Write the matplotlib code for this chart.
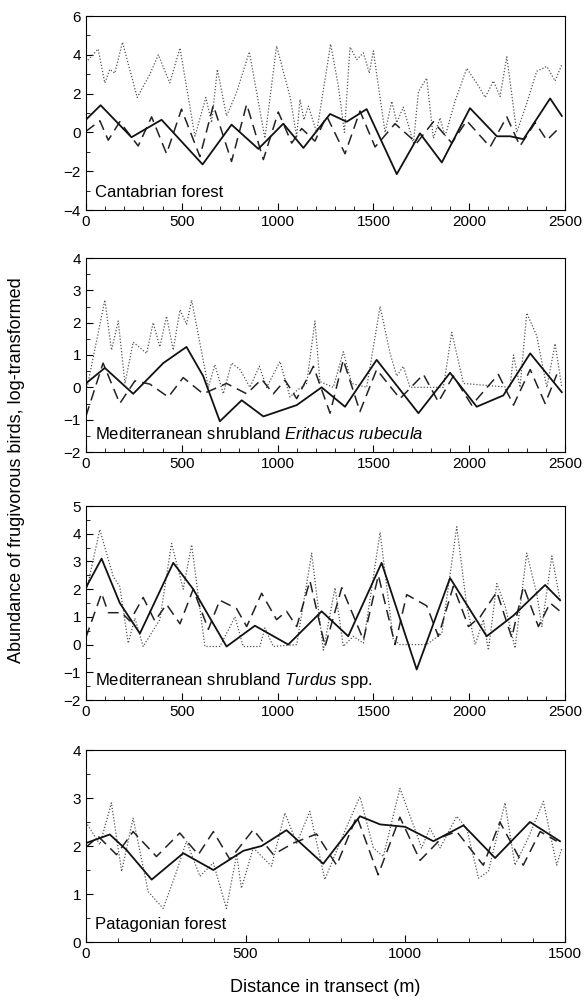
import matplotlib
matplotlib.use('Agg')
import matplotlib.pyplot as plt
from matplotlib.ticker import MultipleLocator

# --- Cantabrian forest
cf_solid_x = [0,77,238,395,609,760,900,1030,1135,1274,1361,1465,1622,1743,1857,2004,2144,2213,2283,2422,2483]
cf_solid_y = [0.65,1.4,-0.25,0.65,-1.65,0.4,-0.85,0.45,-0.8,0.95,0.55,1.2,-2.15,-0.05,-1.55,1.25,-0.2,-0.2,-0.35,1.75,0.85]
cf_dash_x = [0,73,117,177,273,343,421,499,595,665,760,839,926,1004,1074,1126,1195,1256,1352,1430,1509,1613,1726,1813,1909,1987,2109,2196,2265,2344,2405,2466]
cf_dash_y = [0.05,0.6,-0.4,0.55,-0.7,0.8,-1.1,1.2,-1.25,1.4,-1.5,1.45,-1.4,1.05,-0.55,0.2,-0.45,0.85,-1.1,1.1,-0.75,0.45,-0.55,0.55,-0.55,0.6,-0.75,0.8,-0.7,0.5,-0.4,0.2]
cf_dot_x = [0,64,99,125,151,191,268,334,378,438,491,569,626,656,686,734,786,853,934,995,1065,1100,1117,1138,1161,1204,1277,1317,1349,1378,1413,1448,1479,1500,1561,1596,1622,1656,1709,1735,1778,1813,1848,1874,1926,1987,2048,2083,2126,2161,2196,2248,2300,2352,2405,2448,2483]
cf_dot_y = [3.6,4.3,2.55,3.25,3.05,4.65,1.8,3.0,4.0,2.55,4.35,-0.2,1.8,0.5,3.25,0.85,2.05,4.15,-0.3,4.45,1.85,-0.2,1.7,0.65,1.35,0.0,4.55,2.4,0.0,4.4,3.75,4.1,3.05,4.2,0.0,1.6,0.5,1.3,-0.55,2.1,2.8,-0.3,0.75,-0.2,1.6,3.3,2.4,1.8,2.65,1.85,3.9,0.0,1.5,3.15,3.4,2.65,3.5]

# --- Mediterranean shrubland, Erithacus rubecula
er_solid_x = [0,99,247,404,525,612,699,813,926,1100,1230,1352,1517,1735,1900,2039,2178,2318,2483]
er_solid_y = [0.12,0.6,-0.2,0.75,1.25,0.35,-1.05,-0.4,-0.9,-0.55,0.0,-0.6,0.85,-0.8,0.45,-0.6,-0.25,1.05,-0.15]
er_dash_x = [0,90,177,256,334,430,508,612,734,839,917,978,1039,1100,1187,1274,1343,1430,1517,1639,1761,1839,1917,2013,2152,2231,2318,2396,2457]
er_dash_y = [-0.9,0.75,-0.5,0.2,0.1,-0.3,0.3,-0.2,0.12,-0.2,0.25,-0.2,0.22,-0.35,0.65,-0.8,0.85,-0.75,0.55,-0.35,0.4,-0.45,0.35,-0.55,0.4,-0.55,0.55,-0.5,0.4]
er_dot_x = [0,99,134,169,204,247,317,351,386,421,456,491,525,552,639,673,717,760,804,856,905,943,1013,1065,1100,1152,1195,1221,1291,1343,1387,1465,1535,1587,1622,1656,1691,1865,1909,1970,2213,2231,2265,2300,2352,2405,2448,2483]
er_dot_y = [-0.2,2.7,1.15,2.05,0.12,1.4,1.05,2.0,1.25,2.2,1.15,2.4,1.95,2.7,0.0,0.7,-0.2,0.75,0.55,0.0,0.65,0.0,0.8,-0.3,-0.1,0.12,2.05,0.18,0.0,1.1,0.12,0.0,2.5,1.05,0.35,0.65,0.0,0.0,1.7,0.12,0.0,1.0,0.0,2.3,1.6,0.0,1.35,0.0]

# --- Mediterranean shrubland, Turdus spp.
tu_solid_x = [0,82,177,282,456,560,734,882,1056,1230,1369,1543,1726,1900,2091,2231,2396,2474]
tu_solid_y = [2.05,3.1,1.5,0.4,2.95,2.0,-0.07,0.68,0.0,1.2,0.3,2.95,-0.9,2.4,0.3,1.05,2.15,1.6]
tu_dash_x = [0,82,117,186,230,299,360,421,491,560,639,699,786,839,917,995,1047,1100,1169,1248,1335,1448,1526,1613,1674,1778,1839,1917,1996,2057,2144,2222,2283,2361,2422,2474]
tu_dash_y = [0.25,1.85,1.15,1.15,0.85,1.7,0.85,1.45,0.75,2.0,0.55,1.6,1.3,0.65,1.85,0.9,1.2,0.65,2.3,-0.07,2.05,0.17,2.5,0.0,1.8,1.4,0.3,2.1,0.65,1.0,1.9,0.25,2.1,0.65,1.5,1.2]
tu_dot_x = [0,73,143,177,221,256,299,386,447,508,552,621,699,778,821,908,934,978,1100,1178,1239,1300,1343,1395,1448,1535,1604,1639,1778,1857,1935,1987,2031,2074,2100,2144,2187,2239,2300,2352,2379,2431,2474]
tu_dot_y = [1.85,4.15,2.45,2.1,0.05,0.95,-0.07,0.9,3.65,2.0,3.6,-0.07,-0.07,1.0,-0.07,-0.07,0.6,-0.07,0.0,3.3,-0.2,2.05,-0.07,0.3,0.05,4.05,0.17,0.0,0.0,0.4,4.25,1.4,0.0,0.9,-0.2,2.2,1.4,-0.13,3.3,1.85,0.65,3.2,1.6]

# --- Patagonian forest
pa_solid_x = [0,75,127,206,305,399,493,550,628,743,858,921,999,1088,1182,1281,1390,1484]
pa_solid_y = [2.06,2.24,1.92,1.3,1.85,1.5,1.9,2.0,2.33,1.63,2.62,2.45,2.4,2.1,2.43,1.75,2.5,2.1]
pa_dash_x = [0,39,96,148,221,294,352,399,451,524,587,649,722,785,848,915,983,1046,1119,1161,1244,1296,1369,1422,1474]
pa_dash_y = [1.97,2.2,1.82,2.3,1.78,2.27,1.82,2.3,1.72,2.34,1.82,2.06,2.25,1.6,2.62,1.4,2.6,1.7,2.2,2.3,1.6,2.5,1.6,2.3,2.1]
pa_dot_x = [0,44,80,112,148,195,242,284,315,357,399,440,472,487,524,581,623,660,701,748,806,858,900,931,983,1025,1051,1077,1109,1161,1192,1229,1260,1312,1343,1385,1432,1474,1490]
pa_dot_y = [2.5,2.03,2.9,1.47,2.58,1.05,0.7,1.47,2.1,1.37,1.65,0.7,1.82,1.12,1.96,1.58,2.69,2.06,2.72,1.3,2.24,3.03,1.96,1.78,3.2,2.44,1.96,2.37,1.96,2.62,2.37,1.33,1.47,2.9,1.6,2.17,2.93,1.6,1.96]

panels = [
    dict(solid=(cf_solid_x, cf_solid_y), dash=(cf_dash_x, cf_dash_y), dot=(cf_dot_x, cf_dot_y),
         xmax=2500, ylim=(-4, 6), ymaj=2, ymin=1, label='Cantabrian forest', pos=[0.146, 0.790, 0.815, 0.194]),
    dict(solid=(er_solid_x, er_solid_y), dash=(er_dash_x, er_dash_y), dot=(er_dot_x, er_dot_y),
         xmax=2500, ylim=(-2, 4), ymaj=1, ymin=0.5, label='Mediterranean shrubland $\\it{Erithacus\\ rubecula}$', pos=[0.146, 0.548, 0.815, 0.194]),
    dict(solid=(tu_solid_x, tu_solid_y), dash=(tu_dash_x, tu_dash_y), dot=(tu_dot_x, tu_dot_y),
         xmax=2500, ylim=(-2, 5), ymaj=1, ymin=0.5, label='Mediterranean shrubland $\\it{Turdus}$ spp.', pos=[0.146, 0.300, 0.815, 0.194]),
    dict(solid=(pa_solid_x, pa_solid_y), dash=(pa_dash_x, pa_dash_y), dot=(pa_dot_x, pa_dot_y),
         xmax=1500, ylim=(0, 4), ymaj=1, ymin=0.5, label='Patagonian forest', pos=[0.146, 0.058, 0.815, 0.192]),
]

plt.rcParams['font.family'] = ['Liberation Sans', 'DejaVu Sans']
plt.rcParams['mathtext.fontset'] = 'custom'
plt.rcParams['mathtext.it'] = 'Liberation Sans:italic'
plt.rcParams['mathtext.rm'] = 'Liberation Sans'

fig = plt.figure(figsize=(5.88, 10), dpi=100)
for p in panels:
    ax = fig.add_axes(p['pos'])
    ax.plot(*p['dot'], color='#555555', linestyle=(0, (1, 1.5)), linewidth=0.9)
    ax.plot(*p['dash'], color='#222222', linestyle=(0, (7, 4)), linewidth=1.1)
    ax.plot(*p['solid'], color='#111111', linestyle='-', linewidth=1.3)
    ax.set_xlim(0, p['xmax'])
    ax.set_ylim(*p['ylim'])
    ax.xaxis.set_major_locator(MultipleLocator(500))
    ax.xaxis.set_minor_locator(MultipleLocator(100))
    ax.yaxis.set_major_locator(MultipleLocator(p['ymaj']))
    ax.yaxis.set_minor_locator(MultipleLocator(p['ymin']))
    ax.tick_params(which='both', direction='in', labelsize=11, top=False, right=False)
    ax.tick_params(which='major', length=5)
    ax.tick_params(which='minor', length=3)
    ax.text(0.02, 0.05, p['label'], transform=ax.transAxes, fontsize=12, va='bottom', ha='left')

fig.text(0.028, 0.53, 'Abundance of frugivorous birds, log-transformed', rotation=90,
         ha='center', va='center', fontsize=13)
fig.text(0.553, 0.013, 'Distance in transect (m)', ha='center', va='center', fontsize=13)
fig.savefig('out.png', dpi=100)
